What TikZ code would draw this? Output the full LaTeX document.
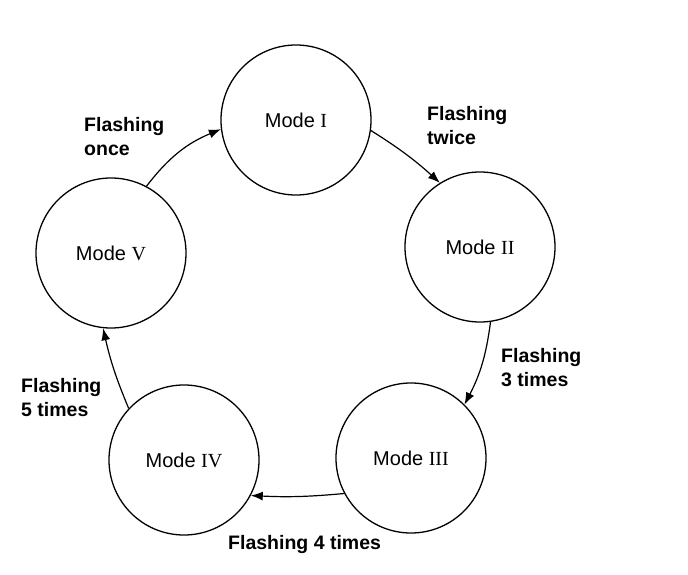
\documentclass[tikz,border=0pt]{standalone}
\usepackage{fontspec}
\setmainfont{Liberation Sans}
\newfontfamily\numfont{Liberation Serif}
\usetikzlibrary{arrows.meta}

\begin{document}
\begin{tikzpicture}[x=1pt,y=1pt,
  % 圆圈的style
  mode circle/.style={draw,circle,line width=1.3pt,minimum size=150pt,inner sep=0pt,
    font=\fontsize{20}{24}\selectfont},
  % 箭头的style
  flash arrow/.style={line width=1.2pt,-{Latex[length=12pt,width=9pt]}},
  % 文字的style
  flash label/.style={anchor=west,align=left,inner sep=0pt,
    font=\fontsize{19.5}{24}\selectfont\bfseries}]

  \useasboundingbox (0,0) rectangle (688,574);

  % 五个模式
  \node[mode circle] (mode1) at (296,454) {Mode {\numfont I}};
  \node[mode circle] (mode2) at (480,327) {Mode {\numfont II}};
  \node[mode circle] (mode3) at (411,116) {Mode {\numfont III}};
  \node[mode circle] (mode4) at (184,114) {Mode {\numfont IV}};
  \node[mode circle] (mode5) at (111,321) {Mode {\numfont V}};

  % 箭头
  \draw[flash arrow] (mode5.62) to[bend left=15] (mode1.187);
  \draw[flash arrow] (mode1.-8) to[bend left=5] (mode2.122);
  \draw[flash arrow] (mode2.-82) to[bend left=10] (mode3.45);
  \draw[flash arrow] (mode3.208) to[bend left=4] (mode4.332);
  \draw[flash arrow] (mode4.137) to[bend left=5] (mode5.264);

  % 文字
  \node[flash label] (once) at (84,437) {Flashing\\once};
  \node[flash label] (twice) at (427,448) {Flashing\\twice};
  \node[flash label] (three) at (501,206.5) {Flashing\\3 times};
  \node[flash label] (four) at (228,30) {Flashing 4 times};
  \node[flash label] (five) at (21,176) {Flashing\\5 times};

\end{tikzpicture}
\end{document}
